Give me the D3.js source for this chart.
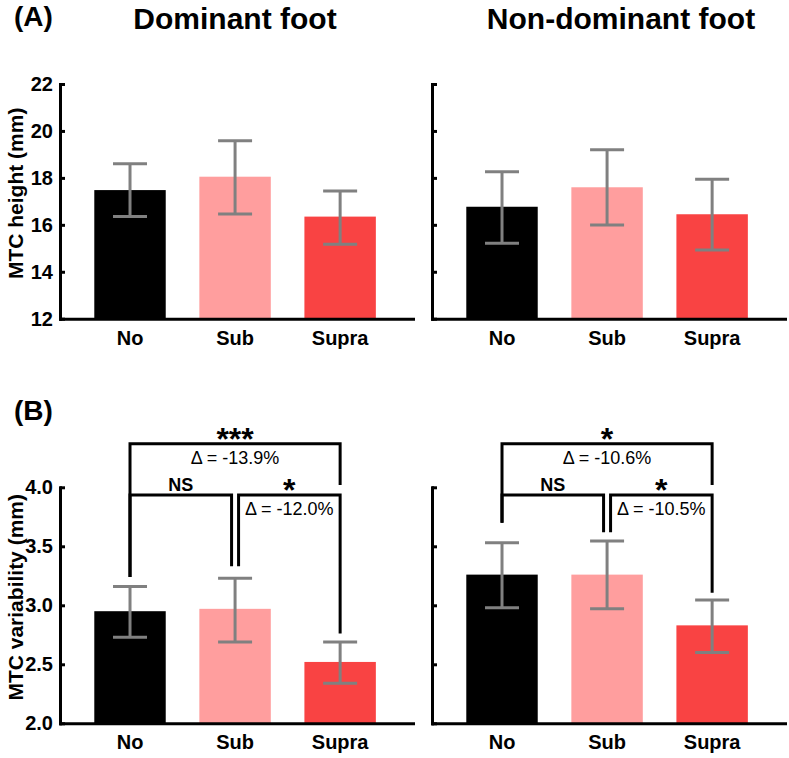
<!DOCTYPE html>
<html>
<head>
<meta charset="utf-8">
<script src="https://cdn.jsdelivr.net/npm/d3@7"></script>
<style>
  html, body { margin: 0; padding: 0; background: #fff; }
  svg { display: block; }
  text { font-family: "Liberation Sans", Arial, Helvetica, sans-serif; }
</style>
</head>
<body>
<svg id="chart" width="789" height="758"></svg>
<script>
// ---------- data ----------
const categories = ["No", "Sub", "Supra"];
const barColors = ["#000000", "#FF9E9E", "#F94343"];
const feet = ["Dominant foot", "Non-dominant foot"];

// (A) MTC height (mm): mean, lower and upper error-bar ends
const heightMeanDom = [17.48, 18.05, 16.35];
const heightLowDom  = [16.35, 16.46, 15.17];
const heightHighDom = [18.60, 19.58, 17.44];
const heightMeanNon = [16.77, 17.60, 16.45];
const heightLowNon  = [15.22, 15.99, 14.93];
const heightHighNon = [18.26, 19.20, 17.94];

// (B) MTC variability (mm)
const varMeanDom = [2.95, 2.97, 2.52];
const varLowDom  = [2.73, 2.69, 2.34];
const varHighDom = [3.16, 3.23, 2.69];
const varMeanNon = [3.26, 3.26, 2.83];
const varLowNon  = [2.98, 2.97, 2.60];
const varHighNon = [3.53, 3.545, 3.045];

const heightTicks = [12, 14, 16, 18, 20, 22];
const varTicks = [2.0, 2.5, 3.0, 3.5, 4.0];

// significance brackets (data units for heights)
const bracketsDom = [
  {from: 0, to: 2, y: 4.37, endL: 3.24, endR: 4.02, sig: "***", delta: "\u0394 = -13.9%"},
  {from: 0, to: 1, y: 3.935, endL: 3.24, endR: 3.33, sig: "NS", delta: ""},
  {from: 1, to: 2, y: 3.935, endL: 3.33, endR: 2.76, sig: "*", delta: "\u0394 = -12.0%"}
];
const bracketsNon = [
  {from: 0, to: 2, y: 4.37, endL: 3.70, endR: 4.02, sig: "*", delta: "\u0394 = -10.6%"},
  {from: 0, to: 1, y: 3.935, endL: 3.70, endR: 3.62, sig: "NS", delta: ""},
  {from: 1, to: 2, y: 3.935, endL: 3.62, endR: 3.107, sig: "*", delta: "\u0394 = -10.5%"}
];

// ---------- layout ----------
const svg = d3.select("#chart");
const panelsX = [[60, 413], [432, 785]];
const rowsY = [[318.7, 84], [723.3, 487.3]];

function drawPanel(col, row, mean, low, high, domain, ticks, showLabels, yTitle, brackets, fmt) {
  const x = d3.scaleBand().domain(categories).range(panelsX[col]).paddingInner(0.32).paddingOuter(0.34).align(0.48);
  const y = d3.scaleLinear().domain(domain).range(rowsY[row]);
  const g = svg.append("g");

  // bars
  g.selectAll("rect.bar").data(categories).join("rect")
    .attr("class", "bar")
    .attr("x", d => x(d))
    .attr("width", x.bandwidth())
    .attr("y", (d, i) => y(mean[i]))
    .attr("height", (d, i) => y(domain[0]) - y(mean[i]))
    .attr("fill", (d, i) => barColors[i]);

  // error bars
  const capW = 34;
  const eb = g.selectAll("g.err").data(categories).join("g").attr("class", "err")
    .attr("stroke", "#808080").attr("stroke-width", 3).attr("fill", "none");
  eb.append("line")
    .attr("x1", d => x(d) + x.bandwidth() / 2).attr("x2", d => x(d) + x.bandwidth() / 2)
    .attr("y1", (d, i) => y(low[i])).attr("y2", (d, i) => y(high[i]));
  eb.append("line")
    .attr("x1", d => x(d) + x.bandwidth() / 2 - capW / 2).attr("x2", d => x(d) + x.bandwidth() / 2 + capW / 2)
    .attr("y1", (d, i) => y(high[i])).attr("y2", (d, i) => y(high[i]));
  eb.append("line")
    .attr("x1", d => x(d) + x.bandwidth() / 2 - capW / 2).attr("x2", d => x(d) + x.bandwidth() / 2 + capW / 2)
    .attr("y1", (d, i) => y(low[i])).attr("y2", (d, i) => y(low[i]));

  // y axis
  const yAxis = d3.axisLeft(y).tickValues(ticks).tickSizeInner(-5).tickSizeOuter(0).tickPadding(7)
    .tickFormat(showLabels ? fmt : () => "");
  const ya = g.append("g").attr("transform", `translate(${panelsX[col][0]},0)`).call(yAxis);
  ya.select(".domain").attr("stroke-width", 3).attr("stroke-linecap", "square");
  ya.selectAll(".tick line").attr("stroke-width", 3);
  ya.selectAll(".tick text").attr("font-size", 20).attr("font-weight", "bold").attr("fill", "#000")
    .attr("font-family", "'Liberation Sans', Arial, sans-serif");

  // x axis
  const xAxis = d3.axisBottom(x).tickSize(0).tickPadding(12);
  const xa = g.append("g").attr("transform", `translate(0,${rowsY[row][0]})`).call(xAxis);
  xa.select(".domain").attr("stroke-width", 3).attr("stroke-linecap", "square");
  xa.selectAll(".tick text").attr("font-size", 20).attr("font-weight", "bold").attr("fill", "#000")
    .attr("font-family", "'Liberation Sans', Arial, sans-serif");

  if (yTitle) {
    const cy = (rowsY[row][0] + rowsY[row][1]) / 2 - 8;
    svg.append("text")
      .attr("transform", `translate(23,${cy}) rotate(-90)`)
      .attr("text-anchor", "middle")
      .attr("font-size", 21).attr("font-weight", "bold")
      .text(yTitle);
  }

  // brackets
  if (brackets) {
    const cx = i => x(categories[i]) + x.bandwidth() / 2;
    const bg = g.append("g");
    brackets.forEach(b => {
      const adjacent = (b.to - b.from) === 1;
      let xl = cx(b.from), xr = cx(b.to);
      if (adjacent) {
        if (b.from === 1) xl += 3.5;
        if (b.to === 1) xr -= 3.5;
      }
      const yl = y(b.y);
      bg.append("path")
        .attr("d", `M${xl},${y(b.endL)} V${yl} H${xr} V${y(b.endR)}`)
        .attr("fill", "none").attr("stroke", "#000").attr("stroke-width", 3)
        .attr("stroke-linejoin", "miter");
      const mx = (xl + xr) / 2;
      if (b.sig === "NS") {
        bg.append("text").attr("x", mx).attr("y", yl - 4)
          .attr("text-anchor", "middle").attr("font-size", 18).attr("font-weight", "bold").text(b.sig);
      } else {
        bg.append("text").attr("x", mx).attr("y", yl + 6)
          .attr("text-anchor", "middle").attr("font-size", 32).attr("font-weight", "bold").text(b.sig);
      }
      if (b.delta) {
        bg.append("text").attr("x", mx).attr("y", yl + 20)
          .attr("text-anchor", "middle").attr("font-size", 18).text(b.delta);
      }
    });
  }
}

drawPanel(0, 0, heightMeanDom, heightLowDom, heightHighDom, [12, 22], heightTicks, true, "MTC height (mm)", null, d3.format("d"));
drawPanel(1, 0, heightMeanNon, heightLowNon, heightHighNon, [12, 22], heightTicks, false, null, null, d3.format("d"));
drawPanel(0, 1, varMeanDom, varLowDom, varHighDom, [2, 4], varTicks, true, "MTC variability (mm)", bracketsDom, d3.format(".1f"));
drawPanel(1, 1, varMeanNon, varLowNon, varHighNon, [2, 4], varTicks, false, null, bracketsNon, d3.format(".1f"));

// titles and panel letters
svg.append("text").attr("x", 14).attr("y", 26).attr("font-size", 28).attr("font-weight", "bold").text("(A)");
svg.append("text").attr("x", 14).attr("y", 420).attr("font-size", 28).attr("font-weight", "bold").text("(B)");
feet.forEach((f, i) => {
  svg.append("text")
    .attr("x", i === 0 ? 235 : 621).attr("y", 29)
    .attr("text-anchor", "middle").attr("font-size", 30).attr("font-weight", "bold")
    .text(f);
});
</script>
</body>
</html>
